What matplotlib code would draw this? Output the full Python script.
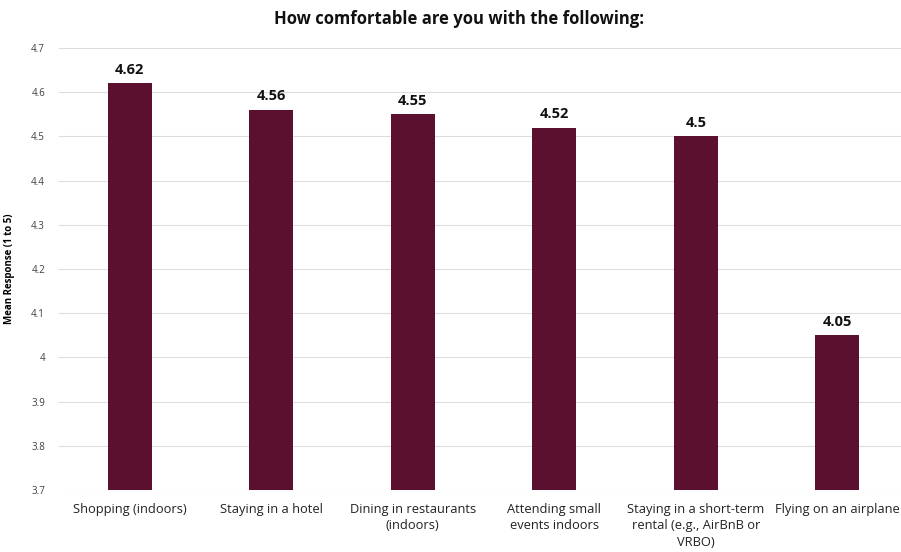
import matplotlib
matplotlib.use("Agg")
import matplotlib.pyplot as plt

categories = [
    "Shopping (indoors)",
    "Staying in a hotel",
    "Dining in restaurants\n(indoors)",
    "Attending small\nevents indoors",
    "Staying in a short-term\nrental (e.g., AirBnB or\nVRBO)",
    "Flying on an airplane",
]
values = [4.62, 4.56, 4.55, 4.52, 4.5, 4.05]
value_labels = ["4.62", "4.56", "4.55", "4.52", "4.5", "4.05"]
yticks = [3.7, 3.8, 3.9, 4.0, 4.1, 4.2, 4.3, 4.4, 4.5, 4.6, 4.7]
ytick_labels = ["3.7", "3.8", "3.9", "4", "4.1", "4.2", "4.3", "4.4", "4.5", "4.6", "4.7"]

plt.rcParams["font.family"] = ["Open Sans", "DejaVu Sans"]

fig = plt.figure(figsize=(9.01, 5.52), dpi=100)
ax = fig.add_axes([59 / 901, 62 / 552, 842 / 901, 442 / 552])

x = list(range(len(categories)))
ax.bar(x, values, width=0.31, color="#5C1030", zorder=3)
for xi, v, lab in zip(x, values, value_labels):
    ax.text(xi, v + 0.015, lab, ha="center", va="bottom", fontsize=10.5,
            fontweight="bold", color="#111111")

ax.set_ylim(3.7, 4.7)
ax.set_xlim(-0.5, 5.45)
ax.set_yticks(yticks)
ax.set_yticklabels(ytick_labels, fontsize=7, color="#404040")
ax.set_xticks(x)
ax.set_xticklabels(categories, fontsize=9.3, color="#222222", linespacing=1.35)
ax.tick_params(axis="y", length=0, pad=10)
ax.tick_params(axis="x", length=0, pad=9)
ax.grid(axis="y", color="#dddddd", linewidth=0.8, zorder=0)
for s in ax.spines.values():
    s.set_visible(False)

ax.set_ylabel("Mean Response (1 to 5)", fontsize=7, fontweight="bold", labelpad=12)
fig.text(0.509, 1 - 19 / 552, "How comfortable are you with the following:",
         ha="center", va="center", fontsize=12, fontweight="bold", color="#111111")

fig.savefig("out.png", dpi=100)
